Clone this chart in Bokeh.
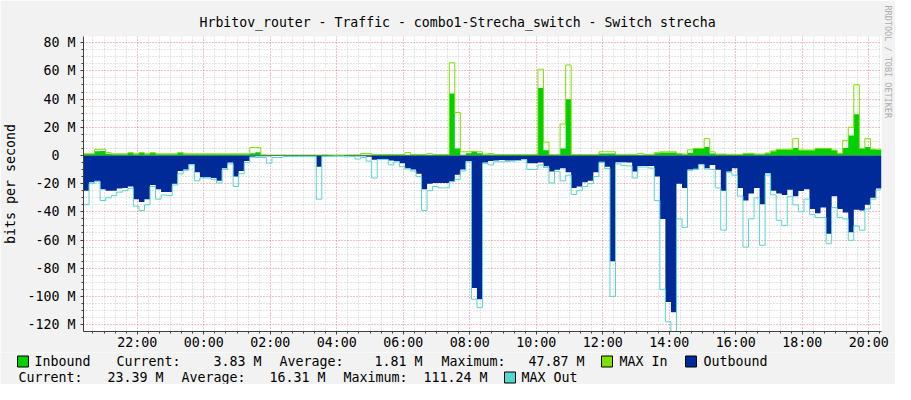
from math import pi
import numpy as np
import pandas as pd
from bokeh.plotting import figure
from bokeh.models import FixedTicker, DatetimeTickFormatter, Title, ColumnDataSource
from bokeh.core.properties import value
from bokeh.embed import file_html
from bokeh.resources import INLINE

TITLE = "Hrbitov_router - Traffic - combo1-Strecha_switch - Switch strecha"
Y_LABEL = "bits per second"
WATERMARK = "RRDTOOL / TOBI OETIKER"
START = "2024-05-13 20:23"
STEP_MINUTES = 10

# values in Mbit/s, one per 10-minute step
inbound = [
    1.0, 1.0, 3.0, 3.2, 1.2, 0.9, 0.9, 0.9, 1.9, 0.9, 1.9, 0.9,
    1.9, 0.9, 0.9, 0.9, 0.9, 1.9, 0.9, 0.9, 0.9, 0.9, 0.9, 0.9,
    0.9, 0.9, 0.9, 0.9, 0.9, 0.9, 1.5, 2.3, 0.2, 0.1, 0.1, 0.1,
    0.1, 0.1, 0.1, 0.1, 0.1, 0.1, 0.1, 0.2, 0.1, 0.1, 0.1, 0.1,
    0.2, 0.2, 0.5, 0.5, 0.5, 0.5, 0.5, 0.5, 0.5, 0.5, 0.5, 0.5,
    0.5, 0.5, 0.5, 0.5, 0.5, 0.5, 44.0, 5.0, 0.5, 1.5, 2.6, 1.5,
    0.7, 0.7, 0.5, 0.5, 0.5, 0.5, 0.5, 0.5, 0.5, 0.5, 47.87, 3.7,
    0.5, 0.5, 4.9, 39.8, 0.5, 0.5, 0.5, 0.5, 0.5, 1.4, 1.4, 1.4,
    0.5, 0.5, 0.5, 0.5, 0.5, 0.5, 0.5, 1.5, 2.1, 2.1, 2.1, 1.0,
    0.9, 2.0, 4.9, 4.9, 6.0, 1.4, 0.9, 0.9, 0.7, 0.7, 0.7, 1.4,
    1.4, 0.9, 0.9, 1.5, 3.0, 4.2, 4.2, 4.2, 5.3, 3.7, 3.7, 3.7,
    4.9, 4.9, 4.9, 3.7, 1.4, 5.3, 14.2, 29.3, 4.9, 6.0, 4.4, 3.83,
]
max_in = [
    1.2, 1.2, 4.4, 4.4, 2.0, 1.2, 1.2, 1.2, 2.0, 1.2, 2.0, 1.2,
    2.0, 1.2, 1.2, 1.2, 1.2, 2.0, 1.2, 1.2, 1.2, 1.2, 1.2, 1.2,
    1.2, 1.2, 1.2, 1.2, 1.2, 1.2, 5.6, 5.6, 0.5, 0.3, 0.3, 0.3,
    0.3, 0.3, 0.3, 0.3, 0.3, 0.3, 0.3, 0.4, 0.3, 0.3, 0.3, 0.3,
    0.4, 0.4, 1.4, 1.4, 0.7, 0.7, 0.7, 0.7, 0.7, 0.7, 2.0, 0.7,
    0.7, 0.7, 1.3, 0.7, 0.7, 0.7, 65.8, 30.5, 2.6, 2.6, 2.8, 2.6,
    1.0, 1.4, 0.7, 0.7, 0.7, 0.7, 0.7, 0.7, 0.7, 0.7, 61.2, 9.5,
    0.7, 0.7, 22.3, 64.2, 0.7, 0.7, 0.7, 0.7, 0.7, 2.6, 2.6, 2.6,
    0.8, 0.8, 0.8, 0.8, 1.5, 0.8, 0.8, 2.0, 2.6, 2.6, 2.6, 1.3,
    1.0, 4.0, 5.0, 5.0, 11.9, 2.6, 1.0, 1.0, 0.8, 0.8, 0.8, 1.5,
    1.5, 1.0, 1.0, 1.8, 3.2, 4.4, 4.4, 4.5, 11.9, 3.9, 3.9, 3.9,
    5.0, 5.0, 5.0, 3.8, 1.5, 10.7, 20.0, 50.2, 5.0, 11.9, 4.5, 4.4,
]
outbound = [
    25, 19, 18, 24, 25, 25, 23.5, 23, 22, 31, 33, 31,
    21, 24, 26, 26, 20, 11, 10, 6, 12, 15.5, 15.5, 16,
    18, 9, 5, 15, 11, 4, 1, 0.5, 0.5, 0.5, 0.3, 0.3,
    0.3, 0.3, 0.3, 0.3, 0.3, 0.3, 8, 0.3, 0.3, 0.2, 0.2, 0.3,
    0.3, 0.5, 0.5, 1.0, 3.0, 2.5, 2.5, 3.5, 4.0, 5.6, 9, 10,
    13, 24, 20, 19.5, 19.5, 19.5, 18.4, 13.7, 10, 4, 94, 102,
    5, 4, 3.5, 3.3, 3.5, 3.5, 3.3, 2.5, 5.5, 5.5, 5, 7.7,
    11.4, 10.2, 9, 12, 23, 22, 19, 18, 12, 4.5, 8, 75,
    4.8, 4.8, 5, 11.4, 7.4, 7.4, 7.4, 15, 45, 104, 111.24, 20,
    23, 10, 9.5, 6, 9, 6.7, 10.2, 25, 11.4, 9, 23, 32,
    27, 23, 34.7, 12.6, 25, 27, 28, 24.4, 29, 25.3, 24, 38,
    41, 37, 55.6, 29, 38, 40.5, 54.4, 38.5, 39, 35, 30, 23.39,
]
max_out = [
    35, 20, 18.5, 32, 30, 28.5, 26, 25, 23.5, 36, 39, 35,
    22, 31, 28, 28.5, 21, 13, 10.5, 6.5, 18, 16, 16, 17,
    19.5, 10, 6, 22, 13, 5, 1.2, 1.5, 1.5, 5.5, 1.5, 1.5,
    0.8, 0.8, 0.8, 0.8, 0.8, 0.8, 31, 0.8, 0.6, 0.6, 0.6, 1.0,
    0.8, 2.5, 1.5, 4.0, 16, 3.0, 2.8, 6.7, 4.5, 8, 9.5, 11,
    15, 39, 25, 22, 23, 23, 18.6, 17, 11, 4.5, 102, 108,
    5.6, 6.7, 4.5, 4.5, 4.2, 4, 3.6, 3, 10, 10, 6.7, 8.5,
    19.5, 11.3, 18, 14, 27.7, 25, 22, 20, 15, 5, 9.3, 100,
    6, 7, 7.5, 16, 8.2, 8.2, 9, 32, 95, 118, 135, 45,
    51, 10.5, 10, 6.5, 9.5, 10, 23, 53, 12, 14, 28.8, 65,
    45, 30, 63.7, 14, 28, 46, 49.8, 29, 35, 40, 31, 42,
    44, 44, 62.6, 37, 44, 45, 60.2, 50, 53, 38, 31, 24.5,
]

y_ticks = [-120, -100, -80, -60, -40, -20, 0, 20, 40, 60, 80]
y_tick_labels = ["-120 M", "-100 M", "-80 M", "-60 M", "-40 M", "-20 M",
                 "0\u00a0\u00a0", "20 M", "40 M", "60 M", "80 M"]
y_minor_ticks = [v for v in range(-125, 85, 5) if v not in y_ticks]

in_stats = ["3.83 M", "1.81 M", "47.87 M"]
out_stats = ["23.39 M", "16.31 M", "111.24 M"]

C_IN = "#00CF00"
C_MAXIN = "#7EE000"
C_OUT = "#002A97"
C_MAXOUT = "#55D6D3"
BG = "#F2F2F2"
FONT = "DejaVu Sans Mono"
FS = "13.3px"
TXT = "#000000"

# ---- step geometry -------------------------------------------------------
t0 = pd.Timestamp(START)
edges = [t0 + pd.Timedelta(minutes=STEP_MINUTES * i) for i in range(len(inbound) + 1)]


def step_xy(vals, sign=1.0):
    xs, ys = [], []
    for i, v in enumerate(vals):
        xs += [edges[i], edges[i + 1]]
        ys += [sign * v, sign * v]
    return pd.to_datetime(xs).values, np.array(ys)


def ms(ts):
    return (ts - pd.Timestamp("1970-01-01")) / pd.Timedelta(milliseconds=1)


major = []
t = t0.ceil("2h")
while t <= edges[-1]:
    major.append(ms(t))
    t += pd.Timedelta(hours=2)
minor = []
t = t0.ceil("20min")
while t <= edges[-1]:
    if ms(t) not in major:
        minor.append(ms(t))
    t += pd.Timedelta(minutes=20)

p = figure(width=895, height=352, x_axis_type="datetime",
           x_range=(edges[0], edges[-1]), y_range=(-124.9, 84.4),
           output_backend="svg", toolbar_location=None,
           min_border_left=81, min_border_right=14, min_border_top=36,
           min_border_bottom=19, background_fill_color="#FFFFFF",
           border_fill_color=BG, outline_line_color=None)

p.title.text = TITLE
p.title.align = "left"
p.title.offset = 116
p.title.standoff = 13
p.title.text_font = FONT
p.title.text_font_size = "13.2px"
p.title.text_font_style = "normal"
p.title.text_color = TXT

p.add_layout(Title(text=WATERMARK, align="left", offset=-31, text_font=FONT,
                   text_font_size="8.5px", text_font_style="normal",
                   text_color="#ADADAD", standoff=2), "right")

xi, yi = step_xy(inbound)
p.varea(x=xi, y1=0, y2=yi, fill_color=C_IN)
xm, ym = step_xy(max_in)
p.line(xm, ym, line_color=C_MAXIN, line_width=1)
xo, yo = step_xy(outbound, -1.0)
p.varea(x=xo, y1=yo, y2=0, fill_color=C_OUT)
xmo, ymo = step_xy(max_out, -1.0)
p.line(xmo, ymo, line_color=C_MAXOUT, line_width=1)

# ---- axes ------------------------------------------------------------------
p.xaxis.ticker = FixedTicker(ticks=major, minor_ticks=minor)
fmt = "%H:%M"
p.xaxis.formatter = DatetimeTickFormatter(hours=fmt, hourmin=fmt, days=fmt, minutes=fmt,
                                          minsec=fmt, months=fmt, years=fmt)
p.yaxis.ticker = FixedTicker(ticks=y_ticks, minor_ticks=y_minor_ticks)
p.yaxis.major_label_overrides = {v: s for v, s in zip(y_ticks, y_tick_labels)}
p.yaxis.axis_label = Y_LABEL
p.yaxis.axis_label_text_font = FONT
p.yaxis.axis_label_text_font_size = FS
p.yaxis.axis_label_text_font_style = "normal"
p.yaxis.axis_label_text_color = TXT
p.yaxis.axis_label_standoff = 6

for ax in (p.xaxis, p.yaxis):
    ax.axis_line_color = "#404040"
    ax.major_tick_line_color = "#404040"
    ax.minor_tick_line_color = "#404040"
    ax.major_tick_out = 3
    ax.major_tick_in = 0
    ax.minor_tick_out = 2
    ax.minor_tick_in = 0
    ax.major_label_text_font = FONT
    ax.major_label_text_font_size = FS
    ax.major_label_text_color = TXT
p.xaxis.major_label_standoff = 0
p.yaxis.major_label_standoff = 5

for g in (p.xgrid, p.ygrid):
    g.grid_line_color = "#DE4F4F"
    g.grid_line_alpha = 0.7
    g.grid_line_dash = "1 2"
    g.minor_grid_line_color = "#9A9A9A"
    g.minor_grid_line_alpha = 0.5
    g.minor_grid_line_dash = "1 2"

# ---- legend strip (pixel coordinates of the strip) --------------------------
lf = figure(width=895, height=32, x_range=(0, 895), y_range=(32, 0),
            output_backend="svg", toolbar_location=None,
            x_axis_location=None, y_axis_location=None,
            min_border=0, min_border_left=0, min_border_right=0,
            min_border_top=0, min_border_bottom=0,
            background_fill_color=BG, border_fill_color=BG, outline_line_color=None)
lf.xgrid.visible = False
lf.ygrid.visible = False

L1, L2 = 9, 25
sw = ColumnDataSource(dict(
    left=[17, 601, 685, 504], right=[28, 612, 696, 515],
    top=[L1 - 5.5, L1 - 5.5, L1 - 5.5, L2 - 5.5], bottom=[L1 + 5.5, L1 + 5.5, L1 + 5.5, L2 + 5.5],
    color=[C_IN, C_MAXIN, C_OUT, C_MAXOUT]))
lf.quad(left="left", right="right", top="top", bottom="bottom", fill_color="color",
        line_color="#000000", line_width=1, source=sw)

left_txt = ColumnDataSource(dict(
    x=[34, 116, 279, 441, 619, 703, 18, 181, 343, 521],
    y=[L1, L1, L1, L1, L1, L1, L2, L2, L2, L2],
    text=["Inbound", "Current:", "Average:", "Maximum:", "MAX In", "Outbound",
          "Current:", "Average:", "Maximum:", "MAX Out"]))
right_txt = ColumnDataSource(dict(
    x=[261, 422, 584, 163, 325, 487],
    y=[L1, L1, L1, L2, L2, L2],
    text=in_stats + out_stats))
for src, al in ((left_txt, "left"), (right_txt, "right")):
    lf.text(x="x", y="y", text="text", source=src, text_align=al, text_baseline="middle",
            text_font=value(FONT), text_font_size=value(FS), text_color=TXT)

open("out.html", "w").write(file_html([p, lf], INLINE))
